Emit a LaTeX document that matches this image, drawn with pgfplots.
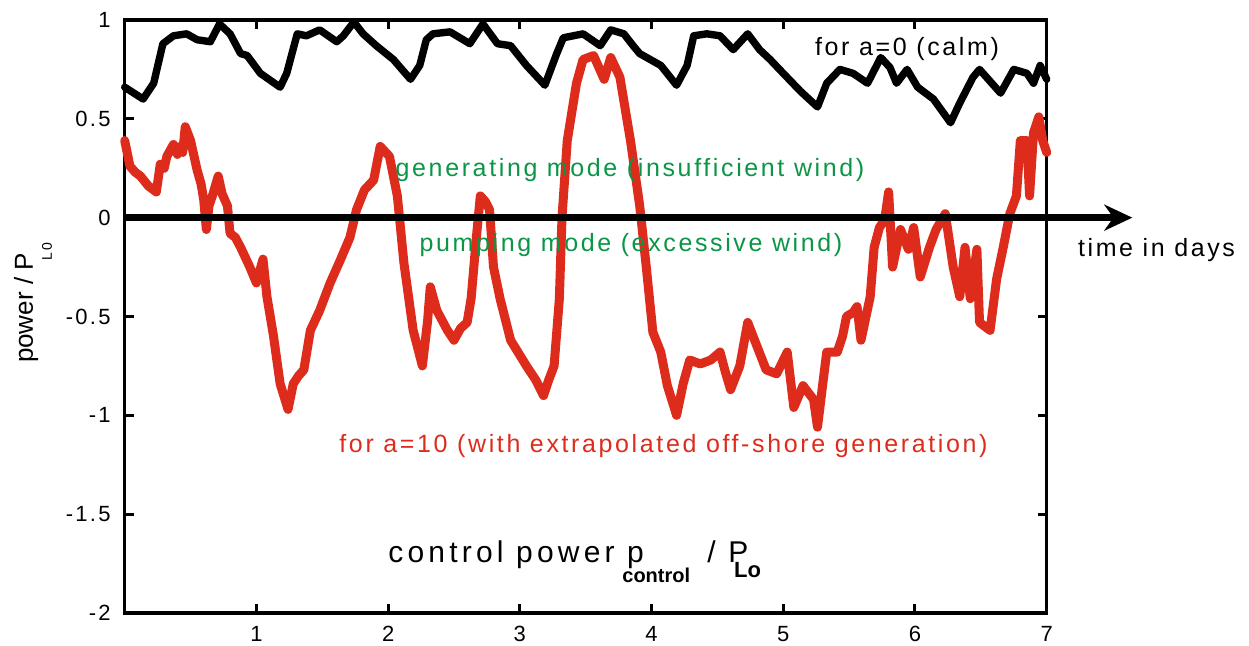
\documentclass[border=0pt]{standalone}
\usepackage{pgfplots}
\pgfplotsset{compat=1.18}
\usepackage{fontspec}
\usetikzlibrary{arrows.meta}
\setmainfont{Liberation Sans}
\newfontfamily\lsp[LetterSpace=10.5]{Liberation Sans}
\newfontfamily\lspb[LetterSpace=14]{Liberation Sans}
\definecolor{cred}{RGB}{221,44,28}
\definecolor{cgreen}{RGB}{10,150,70}

\pgfplotstableread{
x y
0 0.39
0.04 0.26
0.08 0.23
0.12 0.21
0.18 0.16
0.24 0.13
0.27 0.27
0.30 0.25
0.32 0.31
0.37 0.37
0.40 0.32
0.42 0.36
0.44 0.33
0.46 0.46
0.50 0.39
0.55 0.24
0.58 0.17
0.60 0.09
0.62 -0.06
0.64 0.06
0.67 0.12
0.71 0.21
0.74 0.12
0.78 0.06
0.80 -0.08
0.84 -0.10
0.88 -0.15
0.95 -0.25
1.00 -0.33
1.05 -0.21
1.08 -0.40
1.13 -0.60
1.18 -0.84
1.24 -0.97
1.28 -0.84
1.32 -0.80
1.36 -0.77
1.41 -0.57
1.48 -0.47
1.56 -0.33
1.64 -0.21
1.71 -0.10
1.76 0.04
1.82 0.14
1.89 0.19
1.94 0.36
2.01 0.31
2.07 0.11
2.12 -0.23
2.19 -0.57
2.26 -0.75
2.30 -0.52
2.32 -0.35
2.37 -0.47
2.45 -0.57
2.50 -0.62
2.55 -0.56
2.60 -0.53
2.63 -0.41
2.67 -0.10
2.70 0.11
2.74 0.08
2.77 0.04
2.80 -0.25
2.85 -0.41
2.93 -0.62
3.05 -0.75
3.12 -0.82
3.18 -0.90
3.22 -0.82
3.26 -0.75
3.30 -0.41
3.32 0.00
3.36 0.39
3.43 0.68
3.48 0.80
3.56 0.82
3.64 0.70
3.69 0.81
3.76 0.71
3.84 0.39
3.91 0.06
3.96 -0.25
4.01 -0.58
4.07 -0.68
4.12 -0.85
4.19 -1.00
4.24 -0.84
4.29 -0.72
4.37 -0.74
4.45 -0.72
4.52 -0.68
4.56 -0.78
4.60 -0.87
4.67 -0.75
4.73 -0.53
4.80 -0.65
4.87 -0.77
4.95 -0.79
5.03 -0.68
5.08 -0.96
5.15 -0.85
5.23 -0.92
5.26 -1.06
5.30 -0.84
5.33 -0.68
5.41 -0.68
5.45 -0.60
5.48 -0.50
5.53 -0.48
5.56 -0.45
5.59 -0.62
5.66 -0.40
5.69 -0.15
5.73 -0.05
5.77 -0.01
5.80 0.13
5.83 -0.25
5.89 -0.06
5.95 -0.16
5.99 -0.05
6.04 -0.30
6.11 -0.15
6.16 -0.06
6.23 0.02
6.29 -0.25
6.34 -0.40
6.38 -0.15
6.42 -0.41
6.47 -0.16
6.49 -0.53
6.57 -0.57
6.62 -0.31
6.67 -0.15
6.72 0.02
6.77 0.11
6.80 0.39
6.85 0.39
6.87 0.11
6.90 0.43
6.94 0.51
6.97 0.39
7.00 0.33
}\redtab

\pgfplotstableread{
x y
0 0.66
0.14 0.60
0.22 0.68
0.29 0.88
0.37 0.92
0.47 0.93
0.55 0.90
0.65 0.89
0.72 0.98
0.80 0.93
0.88 0.83
0.93 0.82
1.03 0.73
1.18 0.66
1.23 0.73
1.31 0.93
1.38 0.92
1.48 0.95
1.61 0.89
1.66 0.92
1.74 0.99
1.81 0.93
1.91 0.87
2.04 0.80
2.17 0.70
2.24 0.77
2.29 0.90
2.34 0.93
2.47 0.94
2.62 0.88
2.72 0.98
2.83 0.88
2.93 0.87
3.05 0.77
3.19 0.67
3.28 0.83
3.33 0.91
3.48 0.93
3.61 0.87
3.69 0.95
3.79 0.93
3.86 0.87
3.91 0.83
4.07 0.77
4.19 0.67
4.27 0.77
4.32 0.92
4.42 0.93
4.52 0.92
4.62 0.85
4.73 0.93
4.82 0.85
4.90 0.80
5.00 0.73
5.13 0.64
5.26 0.56
5.33 0.68
5.43 0.75
5.53 0.73
5.64 0.68
5.74 0.81
5.81 0.76
5.86 0.68
5.94 0.75
6.02 0.66
6.14 0.60
6.27 0.48
6.34 0.58
6.44 0.71
6.49 0.75
6.65 0.63
6.75 0.75
6.85 0.73
6.90 0.68
6.95 0.77
7.00 0.70
}\blacktab

\begin{document}
\begin{tikzpicture}
\path[use as bounding box] (-62.35pt,-16.5pt) rectangle (562.15pt,306.5pt);
\begin{axis}[
  at={(0pt,0pt)}, anchor=south west,
  scale only axis, width=461pt, height=296.5pt,
  xmin=0, xmax=7, ymin=-2, ymax=1,
  xtick={1,2,3,4,5,6,7}, xticklabels={1,2,3,4,5,6,7},
  ytick={-2,-1.5,-1,-0.5,0,0.5,1},
  yticklabels={-2,-1.5,-1,-0.5,0,0.5,1},
  tick align=inside, major tick length=4.5pt,
  tick style={line width=1.5pt, black},
  axis line style={line width=1.6pt},
  ticklabel style={font=\lsp\fontsize{11}{13}\selectfont},
  yticklabel style={xshift=-3.5pt},
  xticklabel style={yshift=-3pt},
  clip=false,
]
\addplot[cred, line width=4.5pt, line join=round, line cap=round] table[x=x,y=y] {\redtab};
\addplot[black, line width=3.3pt, -{Stealth[length=14pt,width=13pt]}] coordinates {(0,0) (7.65,0)};
\addplot[black, line width=3.7pt, line join=round, line cap=round] table[x=x,y=y] {\blacktab};
\end{axis}
\begin{scope}[every node/.style={inner sep=0pt}]
\node[anchor=base] at (391.15pt,278.5pt) {\lsp\fontsize{12.5}{15}\selectfont for a=0 (calm)};
\node[anchor=base, text=cgreen] at (252.65pt,218pt) {\lsp\fontsize{12.5}{15}\selectfont generating mode (insufficient wind)};
\node[anchor=base, text=cgreen] at (253.15pt,180.5pt) {\lsp\fontsize{12.5}{15}\selectfont pumping mode (excessive wind)};
\node[anchor=base] at (515.9pt,178pt) {\lsp\fontsize{12.5}{15}\selectfont time in days};
\node[anchor=base, text=cred] at (269.4pt,80pt) {\lsp\fontsize{12.5}{15}\selectfont for a=10 (with extrapolated off-shore generation)};
\node[anchor=base west] at (131.65pt,25pt) {\lspb\fontsize{15}{17}\selectfont control power p};
\node[anchor=base west] at (248.65pt,15pt) {\fontsize{10}{12}\selectfont\bfseries control};
\node[anchor=base west] at (291.15pt,25pt) {\lspb\fontsize{15}{17}\selectfont / P};
\node[anchor=base west] at (304.5pt,17.5pt) {\fontsize{11}{13}\selectfont\bfseries Lo};
\node[anchor=base, rotate=90] at (-45.85pt,155pt) {\fontsize{13}{15}\selectfont power / P\kern-3.5pt\raisebox{-9.5pt}{\lsp\fontsize{7}{8}\selectfont L0}};
\end{scope}
\end{tikzpicture}
\end{document}
